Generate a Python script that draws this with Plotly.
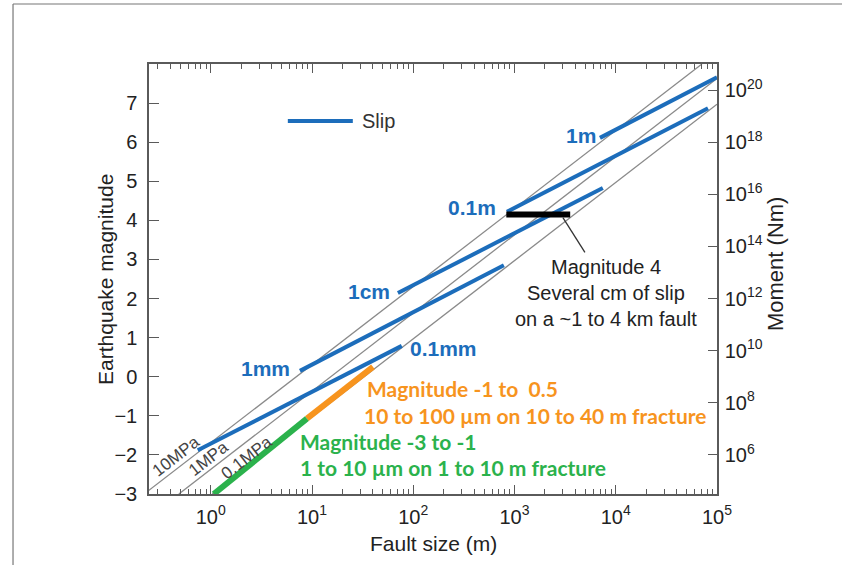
import plotly.graph_objects as go

# ---------------- data ----------------
# constant stress-drop lines (Mw vs fault size)
stress_labels = ["10MPa", "1MPa", "0.1MPa"]
stress_L_start = [0.22, 0.484, 1.035]
stress_M_start = [-3.0, -3.0, -3.0]
stress_L_end = [71000, 100000, 100000]
stress_M_end = [8.0, 7.63, 6.97]

# constant slip lines
slip_labels = ["0.1mm", "1mm", "1cm", "0.1m", "1m"]
slip_L_start = [0.744, 7.6, 70.5, 841, 6980]
slip_M_start = [-1.88, 0.15, 2.14, 4.22, 6.11]
slip_L_end = [77, 785, 7450, 81500, 100000]
slip_M_end = [0.79, 2.85, 4.83, 6.87, 7.66]

# highlighted ranges
orange_L = [8.9, 40]
orange_M = [-1.07, 0.25]
green_L = [1.07, 8.9]
green_M = [-3.0, -1.07]
mag4_L = [830, 3550]
mag4_M = [4.15, 4.15]
pointer_L = [3006, 4960]
pointer_M = [4.07, 3.18]

# axes
x_tickvals = [1, 10, 100, 1000, 10000, 100000]
x_ticktext = ["10<sup>0</sup>", "10<sup>1</sup>", "10<sup>2</sup>", "10<sup>3</sup>",
              "10<sup>4</sup>", "10<sup>5</sup>"]
y_tickvals = [-3, -2, -1, 0, 1, 2, 3, 4, 5, 6, 7]
moment_exponents = [6, 8, 10, 12, 14, 16, 18, 20]
moment_ticktext = ["10<sup>%d</sup>" % e for e in moment_exponents]

BLUE = "#1c6dbb"
ORANGE = "#f7941e"
GREEN = "#2bb24c"
GREY = "#8a8a8a"
AX = "#5a5a5a"
FONT = "Liberation Sans, Arial, Helvetica, sans-serif"
BFONT = "Lato, Open Sans, sans-serif"

fig = go.Figure()

for i in range(len(stress_labels)):
    fig.add_trace(go.Scatter(
        x=[stress_L_start[i], stress_L_end[i]], y=[stress_M_start[i], stress_M_end[i]],
        mode="lines", line=dict(color=GREY, width=1.3), hoverinfo="skip", showlegend=False))

for i in range(len(slip_labels)):
    fig.add_trace(go.Scatter(
        x=[slip_L_start[i], slip_L_end[i]], y=[slip_M_start[i], slip_M_end[i]],
        mode="lines", line=dict(color=BLUE, width=4), name=slip_labels[i], showlegend=False))

fig.add_trace(go.Scatter(x=orange_L, y=orange_M, mode="lines",
                         line=dict(color=ORANGE, width=6), showlegend=False))
fig.add_trace(go.Scatter(x=green_L, y=green_M, mode="lines",
                         line=dict(color=GREEN, width=6), showlegend=False))
fig.add_trace(go.Scatter(x=mag4_L, y=mag4_M, mode="lines",
                         line=dict(color="black", width=6), showlegend=False))
fig.add_trace(go.Scatter(x=pointer_L, y=pointer_M, mode="lines",
                         line=dict(color="#333333", width=1.3), showlegend=False))

# "Slip" key line
fig.add_trace(go.Scatter(x=[5.77, 25.3], y=[6.54, 6.54], mode="lines",
                         line=dict(color=BLUE, width=4), showlegend=False))

# invisible helper trace on the moment axis (moment = 10^(1.5*(Mw+6)))
fig.add_trace(go.Scatter(x=slip_L_start, y=[1.5 * (m + 6) for m in slip_M_start],
                         yaxis="y2", mode="markers", marker=dict(opacity=0),
                         hoverinfo="skip", showlegend=False))

ann = []
def add(text, x, y, color="black", size=19, xanchor="center", yanchor="middle",
        angle=0, family=FONT, xref="x", yref="y"):
    ann.append(dict(text=text, x=x, y=y, xref=xref, yref=yref, showarrow=False,
                    font=dict(color=color, size=size, family=family),
                    xanchor=xanchor, yanchor=yanchor, textangle=angle))

# slip labels (x in log10 units)
add("<b>1m</b>", 3.824, 6.16, BLUE, 21, "right")
add("<b>0.1m</b>", 2.836, 4.33, BLUE, 21, "right")
add("<b>1cm</b>", 1.789, 2.19, BLUE, 21, "right")
add("<b>1mm</b>", 0.80, 0.20, BLUE, 21, "right")
add("<b>0.1mm</b>", 1.947, 0.71, BLUE, 21, "left")
add("Slip", 1.472, 6.54, "#333333", 20, "left")

# stress labels
add("10MPa", -0.345, -2.04, "#444444", 17, angle=-37.8)
add("1MPa", -0.02, -2.09, "#444444", 17, angle=-37.8)
add("0.1MPa", 0.356, -2.06, "#444444", 17, angle=-37.8)

# magnitude 4 note
add("Magnitude 4", 3.903, 2.80, "#222222", 20)
add("Several cm of slip", 3.903, 2.14, "#222222", 20)
add("on a ~1 to 4 km fault", 3.903, 1.48, "#222222", 20)

# coloured notes
add("<b>Magnitude -1 to  0.5</b>", 1.522, -0.31, ORANGE, 21, "left", family=BFONT)
add("<b>10 to 100 µm on 10 to 40 m fracture</b>", 1.49, -0.99, ORANGE, 21, "left", family=BFONT)
add("<b>Magnitude -3 to -1</b>", 0.86, -1.65, GREEN, 21, "left", family=BFONT)
add("<b>1 to 10 µm on 1 to 10 m fracture</b>", 0.86, -2.32, GREEN, 21, "left", family=BFONT)

# axis titles
add("Earthquake magnitude", -0.0775, 0.5, "#222222", 21, angle=-90, xref="paper", yref="paper")
add("Fault size (m)", 0.5, -0.114, "#222222", 21, xref="paper", yref="paper")
add("Moment (Nm)", 1.104, 0.535, "#222222", 22, angle=-90, xref="paper", yref="paper")

TICKFONT = dict(family=FONT, size=20, color="#222222")

fig.update_layout(
    width=842, height=565,
    margin=dict(l=149, r=125, t=64, b=71),
    paper_bgcolor="white", plot_bgcolor="white",
    showlegend=False,
    annotations=ann,
    xaxis=dict(type="log", range=[-0.61, 5.0], tickvals=x_tickvals, ticktext=x_ticktext,
               ticks="inside", ticklen=9, tickwidth=1.2, tickcolor=AX,
               showline=True, linecolor=AX, linewidth=1.5, mirror="ticks",
               showgrid=False, zeroline=False, ticklabelstandoff=4,
               tickfont=TICKFONT,
               minor=dict(ticks="inside", ticklen=5, dtick="D1", tickcolor=AX,
                          tickwidth=1.0, showgrid=False)),
    yaxis=dict(range=[-3, 8], tickvals=y_tickvals, ticks="inside", ticklen=10,
               tickwidth=1.2, tickcolor=AX, showline=True, linecolor=AX, linewidth=1.5,
               showgrid=False, zeroline=False, ticklabelstandoff=6,
               tickfont=TICKFONT),
    yaxis2=dict(overlaying="y", side="right", anchor="x", range=[4.5, 21],
                tickvals=moment_exponents, ticktext=moment_ticktext,
                ticks="inside", ticklen=9, tickwidth=1.2, tickcolor=AX,
                showline=True, linecolor=AX, linewidth=1.5, showgrid=False,
                zeroline=False, ticklabelstandoff=2,
                tickfont=TICKFONT),
    shapes=[
        dict(type="line", xref="paper", yref="paper", x0=-0.2394, x1=-0.2394,
             y0=1.1395, y1=-0.17, line=dict(color="#777777", width=1.2)),
        dict(type="line", xref="paper", yref="paper", x0=-0.2394, x1=1.23,
             y0=1.1395, y1=1.1395, line=dict(color="#777777", width=1.2)),
    ],
)

fig.write_html("out.html", config={"displayModeBar": False},
               post_script="document.body.style.margin='0';")
